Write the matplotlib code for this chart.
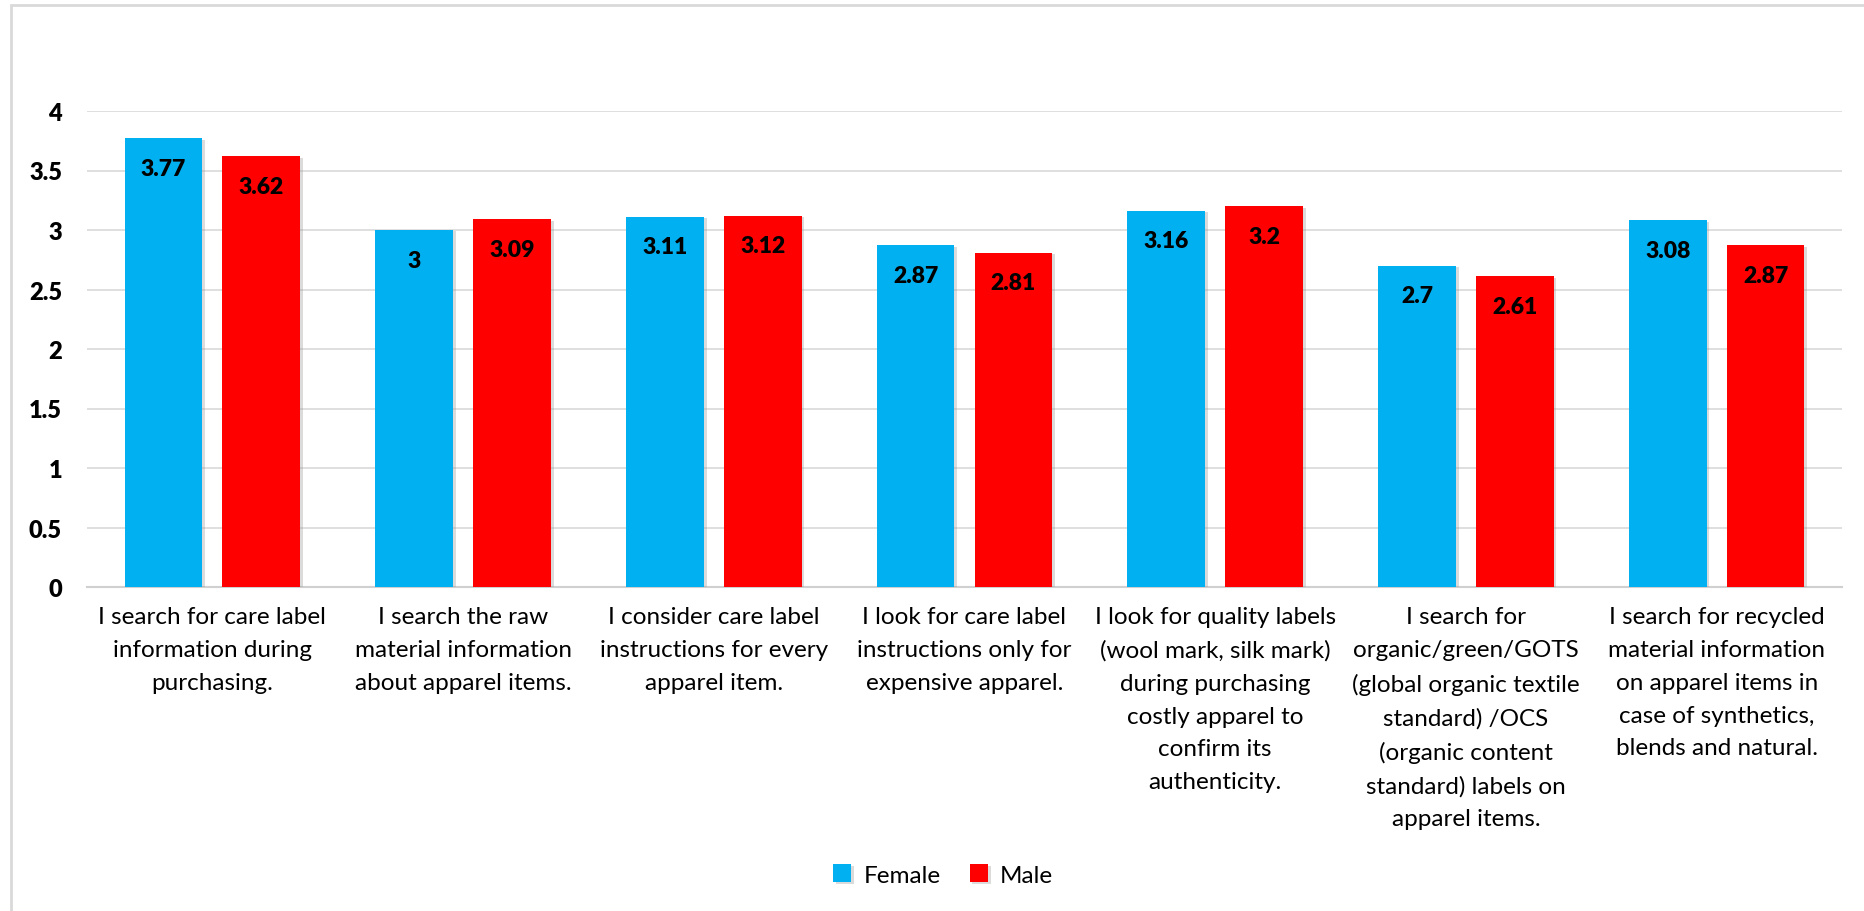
import matplotlib.pyplot as plt
import matplotlib.patheffects as pe
from matplotlib.patches import Rectangle
import numpy as np

plt.rcParams['font.family'] = ['Lato', 'DejaVu Sans']

categories = [
    "I search for care label\ninformation during\npurchasing.",
    "I search the raw\nmaterial information\nabout apparel items.",
    "I consider care label\ninstructions for every\napparel item.",
    "I look for care label\ninstructions only for\nexpensive apparel.",
    "I look for quality labels\n(wool mark, silk mark)\nduring purchasing\ncostly apparel to\nconfirm its\nauthenticity.",
    "I search for\norganic/green/GOTS\n(global organic textile\nstandard) /OCS\n(organic content\nstandard) labels on\napparel items.",
    "I search for recycled\nmaterial information\non apparel items in\ncase of synthetics,\nblends and natural.",
]
female = [3.77, 3.0, 3.11, 2.87, 3.16, 2.7, 3.08]
male = [3.62, 3.09, 3.12, 2.81, 3.2, 2.61, 2.87]

fig = plt.figure(figsize=(18.64, 9.12), dpi=100)
# light frame round the chart area
fig.patches.append(Rectangle((11 / 1864, -0.1), 1.2, 1 - 6 / 912 + 0.1,
                             transform=fig.transFigure, fill=False,
                             edgecolor='#d9d9d9', linewidth=2))

ax = fig.add_axes([87 / 1864, 1 - 588 / 912, (1842 - 87) / 1864, (588 - 112) / 912])

x = np.arange(len(categories))
w = 0.31
off = 0.195
shadow = [pe.SimplePatchShadow(offset=(2, -1), shadow_rgbFace='#999999', alpha=0.35), pe.Normal()]
b1 = ax.bar(x - off, female, w, color='#00B0F0', label='Female', zorder=3, path_effects=shadow)
b2 = ax.bar(x + off, male, w, color='#FF0000', label='Male', zorder=3, path_effects=shadow)

for bars, vals in [(b1, female), (b2, male)]:
    for b, v in zip(bars, vals):
        ax.annotate(f"{v:g}", (b.get_x() + b.get_width() / 2, v), xytext=(0, -30),
                    textcoords='offset pixels', ha='center', va='center',
                    fontsize=16.5, fontweight='heavy', color='black', zorder=4)

ax.set_xlim(-0.5, len(categories) - 0.5)
ax.set_ylim(0, 4)
ax.set_yticks(np.arange(0, 4.01, 0.5))
ax.set_yticklabels([f"{t:g}" for t in np.arange(0, 4.01, 0.5)], fontsize=17, fontweight='heavy')
ax.yaxis.grid(True, color='#d9d9d9', linewidth=1.2, zorder=0)
ax.set_axisbelow(True)
ax.tick_params(axis='y', length=0, pad=18)
ax.tick_params(axis='x', length=0, pad=14)
ax.set_xticks(x)
ax.set_xticklabels(categories, fontsize=17.5, linespacing=1.69, va='top')
for s in ['top', 'right', 'left']:
    ax.spines[s].set_visible(False)
ax.spines['bottom'].set_color('#d0d0d0')
ax.spines['bottom'].set_linewidth(1.5)

fig.legend(handles=[b1, b2], labels=['Female', 'Male'], loc='center',
           bbox_to_anchor=(943 / 1864, 1 - 876 / 912), ncol=2, frameon=False,
           fontsize=17.5, handlelength=0.75, handleheight=0.75, handletextpad=0.5,
           columnspacing=1.2)

fig.savefig('out.png', dpi=100)
